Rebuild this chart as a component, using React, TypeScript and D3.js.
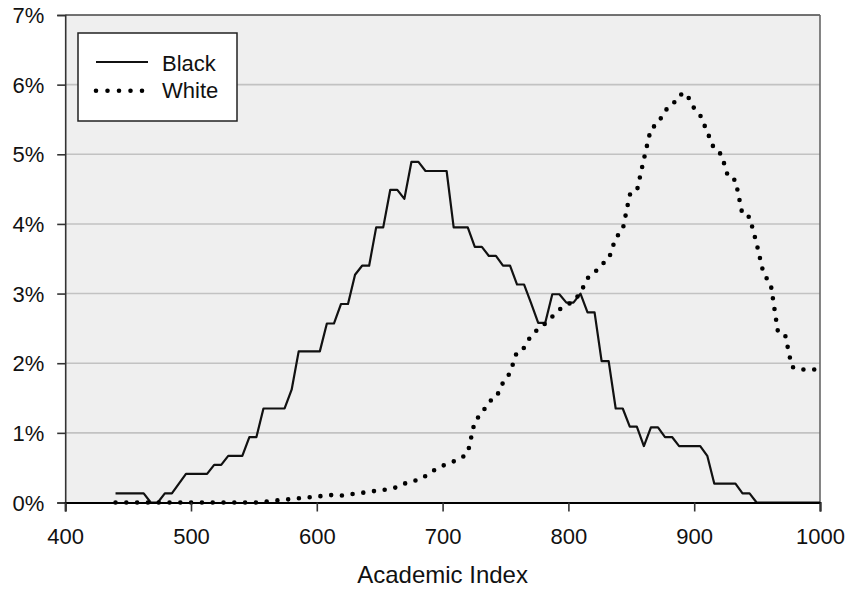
import * as d3 from "d3";
import { useEffect, useRef } from "react";

// academic index bins (x)
const academicIndex = [
  440, 445.6, 451.2, 456.8, 462.4, 468, 473.6, 479.2, 484.8, 490.4,
  496, 501.6, 507.2, 512.8, 518.4, 524, 529.6, 535.2, 540.8, 546.4,
  552, 557.6, 563.2, 568.8, 574.4, 580, 585.6, 591.2, 596.8, 602.4,
  608, 613.6, 619.2, 624.8, 630.4, 636, 641.6, 647.2, 652.8, 658.4,
  664, 669.6, 675.2, 680.8, 686.4, 692, 697.6, 703.2, 708.8, 714.4,
  720, 725.6, 731.2, 736.8, 742.4, 748, 753.6, 759.2, 764.8, 770.4,
  776, 781.6, 787.2, 792.8, 798.4, 804, 809.6, 815.2, 820.8, 826.4,
  832, 837.6, 843.2, 848.8, 854.4, 860, 865.6, 871.2, 876.8, 882.4,
  888, 893.6, 899.2, 904.8, 910.4, 916, 921.6, 927.2, 932.8, 938.4,
  944, 949.6, 955.2, 960.8, 966.4, 972, 977.6, 983.2, 988.8, 994.4,
  1000,
];

// share of applicants (%)
const blackPct = [
  0.13, 0.13, 0.13, 0.13, 0.13, 0, 0, 0.13, 0.13, 0.27,
  0.41, 0.41, 0.41, 0.41, 0.54, 0.54, 0.67, 0.67, 0.67, 0.94,
  0.94, 1.35, 1.35, 1.35, 1.35, 1.62, 2.17, 2.17, 2.17, 2.17,
  2.57, 2.57, 2.85, 2.85, 3.27, 3.4, 3.4, 3.95, 3.95, 4.49,
  4.49, 4.36, 4.89, 4.89, 4.76, 4.76, 4.76, 4.76, 3.95, 3.95,
  3.95, 3.67, 3.67, 3.54, 3.54, 3.4, 3.4, 3.13, 3.13, 2.86,
  2.58, 2.58, 2.99, 2.99, 2.87, 2.87, 3.0, 2.73, 2.73, 2.03,
  2.03, 1.35, 1.35, 1.09, 1.09, 0.81, 1.08, 1.08, 0.94, 0.94,
  0.81, 0.81, 0.81, 0.81, 0.67, 0.27, 0.27, 0.27, 0.27, 0.13,
  0.13, 0, 0, 0, 0, 0, 0, 0, 0, 0,
  0,
];

const whitePct = [
  0, 0, 0, 0, 0, 0, 0, 0, 0, 0,
  0, 0, 0, 0, 0, 0, 0, 0, 0, 0,
  0, 0.01, 0.02, 0.03, 0.04, 0.05, 0.06, 0.07, 0.08, 0.09,
  0.1, 0.11, 0.1, 0.11, 0.13, 0.14, 0.15, 0.17, 0.18, 0.2,
  0.22, 0.27, 0.31, 0.32, 0.38, 0.45, 0.51, 0.55, 0.59, 0.63,
  0.71, 1.17, 1.28, 1.45, 1.5, 1.72, 1.86, 2.17, 2.22, 2.4,
  2.49, 2.57, 2.67, 2.77, 2.83, 2.89, 3.01, 3.22, 3.3, 3.42,
  3.49, 3.8, 3.92, 4.42, 4.47, 4.93, 5.37, 5.44, 5.63, 5.7,
  5.85, 5.88, 5.68, 5.56, 5.32, 5.07, 5.0, 4.66, 4.63, 4.13,
  4.1, 3.72, 3.28, 3.14, 2.47, 2.43, 1.95, 1.91, 1.91, 1.91,
  1.91,
];

const xTicks = [400, 500, 600, 700, 800, 900, 1000];
const yTicks = [0, 1, 2, 3, 4, 5, 6, 7];

const FONT = "'Liberation Sans', Arial, sans-serif";

export default function App() {
  const ref = useRef<SVGSVGElement | null>(null);

  useEffect(() => {
    if (!ref.current) return;
    const width = 852;
    const height = 602;
    const margin = { top: 15, right: 32, bottom: 99.5, left: 65.2 };
    const innerW = width - margin.left - margin.right;
    const innerH = height - margin.top - margin.bottom;

    const x = d3.scaleLinear().domain([400, 1000]).range([0, innerW]);
    const y = d3.scaleLinear().domain([0, 7]).range([innerH, 0]);

    const svg = d3.select(ref.current);
    svg.selectAll("*").remove();
    svg.append("rect").attr("width", width).attr("height", height).attr("fill", "#fff");

    const g = svg.append("g").attr("transform", `translate(${margin.left},${margin.top})`);

    g.append("rect").attr("width", innerW).attr("height", innerH).attr("fill", "#efefef");

    g.selectAll("line.grid")
      .data(yTicks.filter((t) => t > 0 && t < 7))
      .join("line")
      .attr("class", "grid")
      .attr("x1", 0)
      .attr("x2", innerW)
      .attr("y1", (d) => y(d))
      .attr("y2", (d) => y(d))
      .attr("stroke", "#c2c2c2")
      .attr("stroke-width", 1.6);

    // frame
    g.append("line").attr("x1", 0).attr("x2", innerW).attr("y1", 0).attr("y2", 0).attr("stroke", "#444").attr("stroke-width", 1.6);
    g.append("line").attr("x1", innerW).attr("x2", innerW).attr("y1", 0).attr("y2", innerH).attr("stroke", "#666").attr("stroke-width", 1.6);

    const rows = academicIndex.map((v, i) => ({ v, b: blackPct[i], w: whitePct[i] }));

    const blackLine = d3
      .line<{ v: number; b: number; w: number }>()
      .x((d) => x(d.v))
      .y((d) => y(d.b));
    const whiteLine = d3
      .line<{ v: number; b: number; w: number }>()
      .x((d) => x(d.v))
      .y((d) => y(d.w));

    g.append("path")
      .datum(rows)
      .attr("d", blackLine)
      .attr("fill", "none")
      .attr("stroke", "#111")
      .attr("stroke-width", 2.2)
      .attr("stroke-linejoin", "round");

    g.append("path")
      .datum(rows)
      .attr("d", whiteLine)
      .attr("fill", "none")
      .attr("stroke", "#000")
      .attr("stroke-width", 4.6)
      .attr("stroke-linecap", "round")
      .attr("stroke-dasharray", "0 10.8");

    const yAxis = g
      .append("g")
      .call(
        d3
          .axisLeft(y)
          .tickValues(yTicks)
          .tickSize(8)
          .tickPadding(13)
          .tickFormat((d) => `${d}%`)
      );
    yAxis.select(".domain").attr("stroke", "#333").attr("stroke-width", 1.6);
    yAxis.selectAll(".tick line").attr("stroke", "#333").attr("stroke-width", 1.6);
    yAxis
      .selectAll("text")
      .attr("fill", "#111")
      .attr("dy", "0.35em")
      .style("font-family", FONT)
      .style("font-size", "22px");

    const xAxis = g
      .append("g")
      .attr("transform", `translate(0,${innerH})`)
      .call(d3.axisBottom(x).tickValues(xTicks).tickSize(9).tickPadding(17).tickFormat((d) => `${d}`));
    xAxis.select(".domain").attr("stroke", "#000").attr("stroke-width", 2);
    xAxis.selectAll(".tick line").attr("stroke", "#333").attr("stroke-width", 1.6);
    xAxis
      .selectAll("text")
      .attr("fill", "#111")
      .style("font-family", FONT)
      .style("font-size", "22px");

    svg
      .append("text")
      .attr("x", margin.left + innerW / 2)
      .attr("y", 583)
      .attr("text-anchor", "middle")
      .attr("fill", "#111")
      .style("font-family", FONT)
      .style("font-size", "24px")
      .text("Academic Index");

    // legend
    const lg = svg.append("g");
    lg.append("rect")
      .attr("x", 78)
      .attr("y", 33)
      .attr("width", 159)
      .attr("height", 88)
      .attr("fill", "#fff")
      .attr("stroke", "#222")
      .attr("stroke-width", 1.5);
    lg.append("line").attr("x1", 96).attr("x2", 148).attr("y1", 62).attr("y2", 62).attr("stroke", "#111").attr("stroke-width", 2.2);
    lg.append("line")
      .attr("x1", 96)
      .attr("x2", 144)
      .attr("y1", 90.7)
      .attr("y2", 90.7)
      .attr("stroke", "#000")
      .attr("stroke-width", 4.6)
      .attr("stroke-linecap", "round")
      .attr("stroke-dasharray", "0 11.5");
    const legendItems = ["Black", "White"];
    lg.selectAll("text.leg")
      .data(legendItems)
      .join("text")
      .attr("class", "leg")
      .attr("x", 162)
      .attr("y", (_d, i) => 70.5 + i * 27.8)
      .attr("fill", "#111")
      .style("font-family", FONT)
      .style("font-size", "22px")
      .text((d) => d);
  }, []);

  return (
    <svg
      ref={ref}
      width={852}
      height={602}
      style={{ position: "absolute", left: 0, top: 0, display: "block" }}
      role="img"
      aria-label="Academic Index distribution by race"
    />
  );
}
